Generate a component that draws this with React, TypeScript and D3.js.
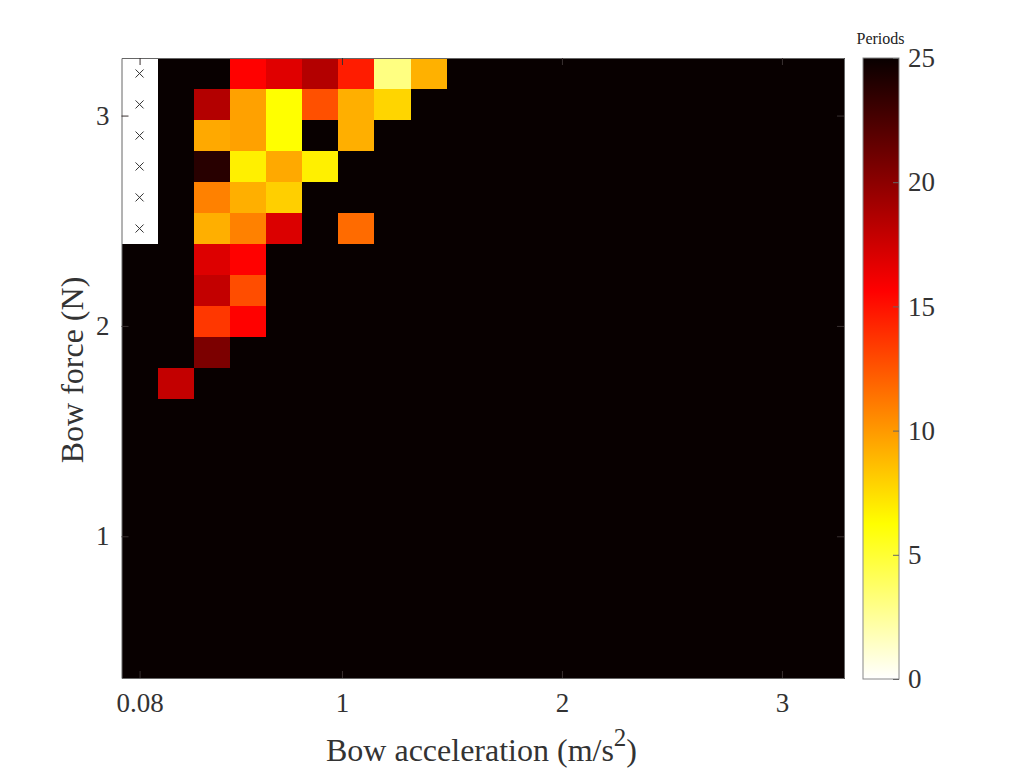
import React, { useEffect, useRef } from "react";
import * as d3 from "d3";

const K = 25; // saturated cell, no change within the 25 periods

// cell centres on both axes
const accelerations = [
  0.08, 0.244, 0.408, 0.573, 0.737, 0.901, 1.065, 1.229, 1.394, 1.558, 1.722,
  1.886, 2.051, 2.215, 2.379, 2.543, 2.707, 2.872, 3.036, 3.2,
];
const forces = [
  3.2, 3.053, 2.905, 2.758, 2.611, 2.463, 2.316, 2.168, 2.021, 1.874, 1.726,
  1.579, 1.432, 1.284, 1.137, 0.989, 0.842, 0.695, 0.547, 0.4,
];

// periods, one row per force from top to bottom, null = not measured (x mark)
const row320 = [null, K, K, 15.6, 16.8, 18.5, 14.6, 3.1, 9.1, K, K, K, K, K, K, K, K, K, K, K];
const row305 = [null, K, 18.5, 9.7, 6.25, 12.7, 9.2, 7.8, K, K, K, K, K, K, K, K, K, K, K, K];
const row291 = [null, K, 9.4, 9.7, 6.25, K, 9.2, K, K, K, K, K, K, K, K, K, K, K, K, K];
const row276 = [null, K, 23.8, 6.8, 9.4, 6.8, K, K, K, K, K, K, K, K, K, K, K, K, K, K];
const row261 = [null, K, 10.9, 9.2, 8, K, K, K, K, K, K, K, K, K, K, K, K, K, K, K];
const row246 = [null, K, 9.2, 10.9, 17, K, 11.7, K, K, K, K, K, K, K, K, K, K, K, K, K];
const row232 = [K, K, 16.9, 15.6, K, K, K, K, K, K, K, K, K, K, K, K, K, K, K, K];
const row217 = [K, K, 17.9, 12.8, K, K, K, K, K, K, K, K, K, K, K, K, K, K, K, K];
const row202 = [K, K, 13.6, 15.6, K, K, K, K, K, K, K, K, K, K, K, K, K, K, K, K];
const row187 = [K, K, 20.6, K, K, K, K, K, K, K, K, K, K, K, K, K, K, K, K, K];
const row173 = [K, 17.9, K, K, K, K, K, K, K, K, K, K, K, K, K, K, K, K, K, K];
const rowFlat = accelerations.map(() => K);
const periods = [
  row320, row305, row291, row276, row261, row246, row232, row217, row202,
  row187, row173, rowFlat, rowFlat, rowFlat, rowFlat, rowFlat, rowFlat,
  rowFlat, rowFlat, rowFlat,
];

const xTicks = [0.08, 1, 2, 3];
const xTickLabels = ["0.08", "1", "2", "3"];
const yTicks = [1, 2, 3];
const colorTicks = [0, 5, 10, 15, 20, 25];

const App: React.FC = () => {
  const svgRef = useRef<SVGSVGElement>(null);

  useEffect(() => {
    if (!svgRef.current) return;
    const svg = d3.select(svgRef.current);
    svg.selectAll("*").remove();

    const font = "'Liberation Serif', serif";
    const textColor = "#333";
    const lineColor = "#666";
    const tickColor = "#3a3030";
    const left = 121.5;
    const right = 844;
    const top = 58;
    const bottom = 678;

    const dx = (3.2 - 0.08) / 19;
    const dy = (3.2 - 0.4) / 19;
    const x = d3.scaleLinear().domain([0.08 - dx / 2, 3.2 + dx / 2]).range([left, right]);
    const y = d3.scaleLinear().domain([0.4 - dy / 2, 3.2 + dy / 2]).range([bottom, top]);

    // flipped "hot" colormap
    const color = d3
      .scaleLinear<string>()
      .domain([25, 15.625, 6.25, 0])
      .range(["#080000", "#ff0000", "#ffff00", "#ffffff"]);

    // Heatmap cells, edges rounded so neighbours share a pixel boundary
    const cells = periods.flatMap((row, r) =>
      row.map((value, c) => ({ a: accelerations[c], f: forces[r], value }))
    );
    const x0 = (d: { a: number }) => Math.round(x(d.a - dx / 2));
    const x1 = (d: { a: number }) => Math.round(x(d.a + dx / 2));
    const y0 = (d: { f: number }) => Math.round(y(d.f + dy / 2));
    const y1 = (d: { f: number }) => Math.round(y(d.f - dy / 2));
    svg
      .append("g")
      .attr("shape-rendering", "crispEdges")
      .selectAll("rect")
      .data(cells)
      .join("rect")
      .attr("x", x0)
      .attr("y", y0)
      .attr("width", (d) => x1(d) - x0(d) + 0.5)
      .attr("height", (d) => y1(d) - y0(d) + 0.5)
      .attr("fill", (d) => (d.value === null ? "#fff" : color(d.value)));

    // x marks for the missing cells
    const cross = d3.symbol().type(d3.symbolX).size(44);
    svg
      .append("g")
      .selectAll("path")
      .data(cells.filter((d) => d.value === null))
      .join("path")
      .attr("d", cross)
      .attr("transform", (d) => `translate(${x(d.a)},${y(d.f)})`)
      .attr("fill", "none")
      .attr("stroke", "#333")
      .attr("stroke-width", 1);

    // Axes, with the ticks mirrored on the top and right like a boxed MATLAB axes
    const xAxis = svg
      .append("g")
      .attr("transform", `translate(0,${bottom})`)
      .call(
        d3
          .axisBottom(x)
          .tickValues(xTicks)
          .tickFormat((_, i) => xTickLabels[i])
          .tickSize(-7)
          .tickPadding(15)
          .tickSizeOuter(0)
      );
    const yAxis = svg
      .append("g")
      .attr("transform", `translate(${left},0)`)
      .call(d3.axisLeft(y).tickValues(yTicks).tickFormat(d3.format("d")).tickSize(-7).tickPadding(12).tickSizeOuter(0));
    const xTop = svg
      .append("g")
      .attr("transform", `translate(0,${top})`)
      .call(d3.axisTop(x).tickValues(xTicks).tickFormat(() => "").tickSize(-7).tickSizeOuter(0));
    const yRight = svg
      .append("g")
      .attr("transform", `translate(${right},0)`)
      .call(d3.axisRight(y).tickValues(yTicks).tickFormat(() => "").tickSize(-7).tickSizeOuter(0));

    for (const axis of [xAxis, yAxis, xTop, yRight]) {
      axis.selectAll(".domain").attr("stroke", lineColor);
      axis.selectAll(".tick line").attr("stroke", tickColor);
      axis
        .selectAll(".tick text")
        .attr("fill", textColor)
        .attr("font-family", font)
        .attr("font-size", 27);
    }

    // Axis titles
    const xTitle = svg
      .append("text")
      .attr("x", 481.5)
      .attr("y", 761)
      .attr("text-anchor", "middle")
      .attr("fill", textColor)
      .attr("font-family", font)
      .attr("font-size", 32);
    xTitle.append("tspan").text("Bow acceleration (m/s");
    xTitle.append("tspan").attr("dy", -15).attr("font-size", 25).text("2");
    xTitle.append("tspan").attr("dy", 15).text(")");

    svg
      .append("text")
      .attr("transform", `translate(83,370) rotate(-90)`)
      .attr("text-anchor", "middle")
      .attr("fill", textColor)
      .attr("font-family", font)
      .attr("font-size", 32)
      .text("Bow force (N)");

    // Colorbar
    const cbLeft = 863;
    const cbRight = 899;
    const cbY = d3.scaleLinear().domain([0, 25]).range([679, 58]);

    const gradient = svg
      .append("defs")
      .append("linearGradient")
      .attr("id", "hot-bar")
      .attr("x1", 0)
      .attr("x2", 0)
      .attr("y1", 1)
      .attr("y2", 0);
    gradient
      .selectAll("stop")
      .data(color.domain().slice().reverse())
      .join("stop")
      .attr("offset", (d) => d / 25)
      .attr("stop-color", (d) => color(d));

    svg
      .append("rect")
      .attr("x", cbLeft)
      .attr("y", cbY(25))
      .attr("width", cbRight - cbLeft)
      .attr("height", cbY(0) - cbY(25))
      .attr("fill", "url(#hot-bar)")
      .attr("stroke", "#888");

    const cbAxis = svg
      .append("g")
      .attr("transform", `translate(${cbRight},0)`)
      .call(d3.axisRight(cbY).tickValues(colorTicks).tickSize(-6).tickPadding(9).tickSizeOuter(0));
    cbAxis.select(".domain").remove();
    cbAxis.selectAll(".tick line").attr("stroke", lineColor);
    cbAxis
      .selectAll(".tick text")
      .attr("fill", textColor)
      .attr("font-family", font)
      .attr("font-size", 27);

    svg
      .append("text")
      .attr("x", 880.5)
      .attr("y", 44)
      .attr("text-anchor", "middle")
      .attr("fill", "#222")
      .attr("font-family", font)
      .attr("font-size", 16)
      .text("Periods");
  }, []);

  return (
    <svg
      ref={svgRef}
      width={1024}
      height={768}
      style={{ position: "absolute", left: 0, top: 0, background: "#fff" }}
    />
  );
};

export default App;
